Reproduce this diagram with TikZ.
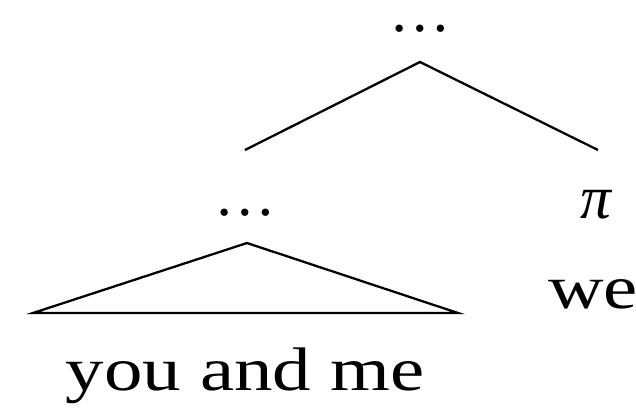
\documentclass[tikz,border=0pt]{standalone}
\usepackage{fontspec}
\usepackage{graphicx}
\setmainfont{Liberation Serif}
\usepackage{tikz}
\usetikzlibrary{positioning}
\newcommand{\wide}[1]{\scalebox{1.25}[1]{#1}}

\begin{document}
\begin{tikzpicture}[font=\fontsize{35}{38}\selectfont]
    \useasboundingbox (0,0) rectangle (12.72,-8.16);
    \tikzset{word/.style={inner sep=0pt, anchor=base}, dots/.style={word, text height=0.15em, text depth=0pt}, branch/.style={line width=1.3pt}}

    \node[dots] (top) at (8.4,-0.62) {\raisebox{0pt}[0.15em][0pt]{…}};
    \coordinate (topjoin) at (8.4,-1.24);
    \coordinate (lefttip) at (4.9,-3.0);
    \coordinate (righttip) at (11.96,-3.0);
    \draw[branch] (lefttip) -- (topjoin) -- (righttip);

    \node[dots] (mid) at (4.9,-4.3) {\raisebox{0pt}[0.15em][0pt]{…}};
    \coordinate (apex) at (4.94,-4.86);
    \coordinate (baseL) at (0.66,-6.26);
    \coordinate (baseR) at (9.16,-6.26);
    \draw[branch] (baseL) -- (apex) -- (baseR) -- cycle;
    \node[word] (phrase) at (4.9,-7.8) {\wide{you and me}};

    \node[word] (pi) at (11.94,-4.36) {\textit{π}};
    \node[word, anchor=base west] (we) at (10.96,-6.16) {\wide{we}};
\end{tikzpicture}
\end{document}
